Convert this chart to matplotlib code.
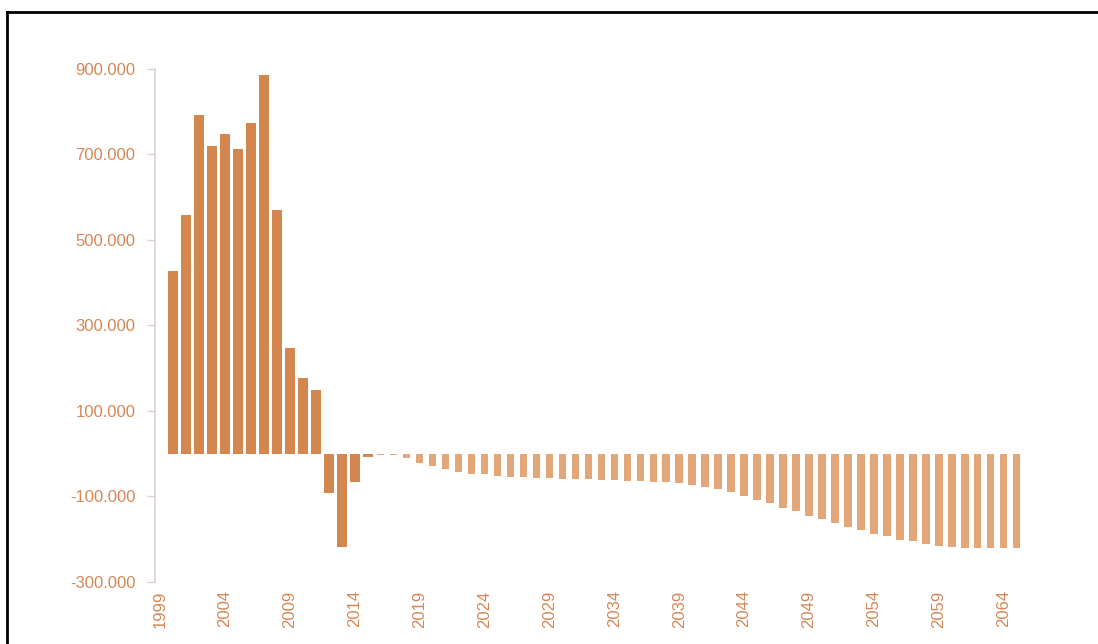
import matplotlib
matplotlib.use("Agg")
import matplotlib.pyplot as plt
from matplotlib.lines import Line2D
from matplotlib.ticker import FuncFormatter

plt.rcParams['font.family'] = ['Liberation Sans', 'DejaVu Sans']

# Net migration, historical (darker) and projected (lighter)
hist_years = list(range(2000, 2016))
hist_values = [428000, 559000, 793000, 720000, 749000, 713000, 774000, 886000,
               570000, 248000, 178000, 150000, -93000, -218000, -65000, -8000]

proj_years = list(range(2016, 2066))
proj_values = [-2000, -3000, -10000, -21000, -28000, -35000, -42000, -47000, -47000, -51000,
               -54000, -55000, -56000, -57000, -58000, -58000, -59000, -61000, -61000, -64000,
               -64000, -65000, -67000, -69000, -72000, -78000, -83000, -90000, -100000, -108000,
               -115000, -126000, -134000, -145000, -153000, -161000, -172000, -178000, -188000, -193000,
               -201000, -205000, -210000, -217000, -218000, -221000, -221000, -221000, -221000, -221000]

tick_years = list(range(1999, 2065, 5))
y_ticks = [-300000, -100000, 100000, 300000, 500000, 700000, 900000]

text_color = '#d58656'
axis_color = '#ddd2ce'

fig = plt.figure(figsize=(10.98, 6.44), dpi=100)
ax = fig.add_axes([0.1412, 0.0963, 0.7969, 0.7966])

ax.bar(hist_years, hist_values, width=0.78, color='#d4864f')
ax.bar(proj_years, proj_values, width=0.58, color='#e2a679')

ax.set_xlim(1998.61, 2066.03)
ax.set_ylim(-300000, 900000)
ax.set_yticks(y_ticks)
ax.yaxis.set_major_formatter(FuncFormatter(lambda v, p: f"{v:,.0f}".replace(",", ".")))
ax.set_xticks(tick_years)
ax.set_xticklabels([str(y) for y in tick_years], rotation=90)

for side in ['top', 'right', 'bottom']:
    ax.spines[side].set_visible(False)
ax.spines['left'].set_color(axis_color)
ax.spines['left'].set_linewidth(1.2)

ax.tick_params(axis='y', colors=axis_color, labelcolor=text_color, length=6, width=1, pad=8, labelsize=12)
ax.tick_params(axis='x', length=0, labelcolor=text_color, pad=6, labelsize=12)

# black frame of the screenshot (top and left edges only)
fig.add_artist(Line2D([0.0062, 0.0062], [0, 0.982], color='black', lw=2, transform=fig.transFigure))
fig.add_artist(Line2D([0.0062, 1.0], [0.982, 0.982], color='black', lw=2, transform=fig.transFigure))

fig.savefig('out.png', dpi=100)
